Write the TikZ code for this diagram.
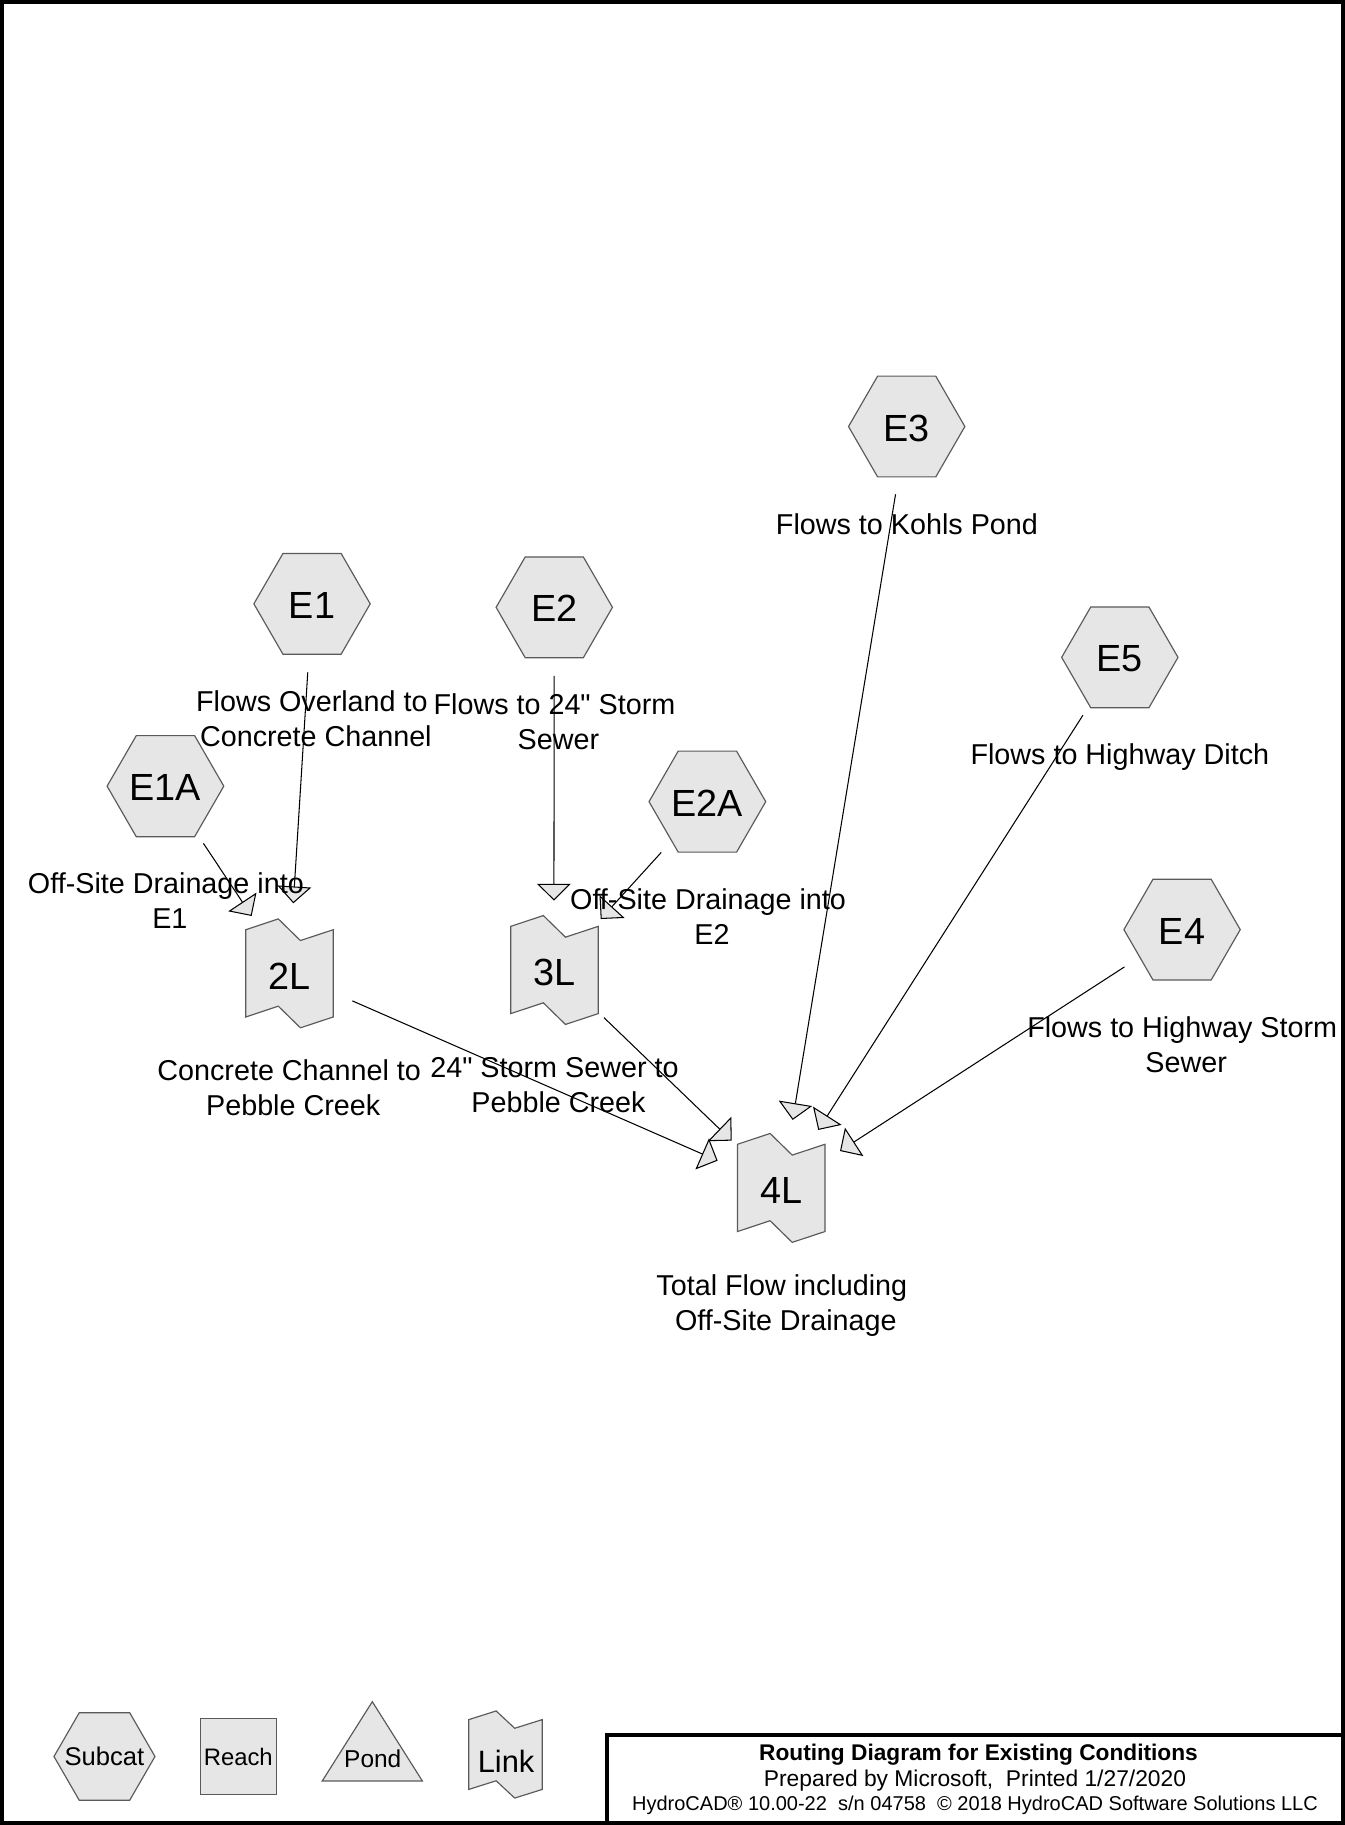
\documentclass[tikz,border=0pt]{standalone}
\usepackage{fontspec}
\setmainfont{Liberation Sans}
\usetikzlibrary{arrows.meta,calc,shapes.geometric}
\definecolor{shfill}{RGB}{230,230,230}
\definecolor{shline}{RGB}{90,90,90}
\newcommand\mylbl[1]{\begin{tabular}[t]{@{}c@{}}#1\end{tabular}}
\newcommand\trsp{\kern.278em}
\font\qfnt="Liberation Sans" at 24.7pt
\newcommand\dq{{\qfnt\char"22}}
\newcommand\linkoutline[2]{\path[linkshape, shift={(#1)}, #2] (-37.6,-37.5) -- (-9.6,-46.8) -- (9.4,-28.2) -- (37.6,-37.5) -- (37.6,37.5) -- (9.4,46.8) -- (-9.6,28.2) -- (-37.6,37.5) -- cycle;}
\begin{document}
\begin{tikzpicture}[x=1pt,y=-1pt,
  hexnode/.style={regular polygon, regular polygon sides=6, minimum size=100pt, inner sep=0pt,
    draw=shline, fill=shfill, line width=1pt, font=\fontsize{32.5}{38}\selectfont,
    text height=25pt, text depth=0pt},
  linknode/.style={inner sep=0pt, font=\fontsize{32.5}{38}\selectfont, text height=27.3pt, text depth=0pt},
  linkshape/.style={draw=shline, fill=shfill, line width=1pt},
  lbl/.style={anchor=base, inner sep=0pt, font=\fontsize{24.7}{30}\selectfont},
  flow/.style={draw=black, line width=0.9pt, -{Triangle[length=14.5pt,width=29pt,fill=shfill]}},
  ttl/.style={anchor=base, inner sep=0pt},
]
\useasboundingbox (0,0) rectangle (1156,1568.6);

% subcatchments
\node[hexnode] (E3) at (779.3,366.6) {E3};
\node[hexnode] (E1) at (268.2,519) {E1};
\node[hexnode] (E2) at (476.4,522) {E2};
\node[hexnode] (E1A) at (142.2,675.7) {E1A};
\node[hexnode] (E2A) at (608,689) {E2A};
\node[hexnode] (E5) at (962.5,565) {E5};
\node[hexnode] (E4) at (1016,799) {E4};

% links
\coordinate (c2L) at (248.8,836.6);
\coordinate (c3L) at (476.6,833.7);
\coordinate (c4L) at (671.5,1021);
\linkoutline{c2L}{}
\linkoutline{c3L}{}
\linkoutline{c4L}{}
\node[linknode] (L2) at (c2L) {2L};
\node[linknode] (L3) at (c3L) {3L};
\node[linknode] (L4) at (c4L) {4L};

% arrow tips
\coordinate (t1) at (252.1,776.4);
\coordinate (t1a) at (216.3,787.3);
\coordinate (t2) at (476.1,774.1);
\coordinate (t2a) at (516.3,789.9);
\coordinate (t3) at (681.3,962.6);
\coordinate (t5) at (703.3,971.2);
\coordinate (t4) at (722,989.3);
\coordinate (t2l) at (616.8,997.6);
\coordinate (t3l) at (628.9,980.4);

% connectors
\draw[flow] ($(E1)!59pt!(t1)$) -- (t1);
\draw[flow] ($(E1A)!59pt!(t1a)$) -- (t1a);
\draw[flow] ($(E2)!59pt!(t2)$) -- (t2);
\draw[flow] ($(E2A)!59pt!(t2a)$) -- (t2a);
\draw[flow] ($(E3)!59pt!(t3)$) -- (t3);
\draw[flow] ($(E5)!59pt!(t5)$) -- (t5);
\draw[flow] ($(E4)!59pt!(t4)$) -- (t4);
\draw[flow] ($(c2L)!59pt!(t2l)$) -- (t2l);
\draw[flow] ($(c3L)!59pt!(t3l)$) -- (t3l);

% labels
\node[lbl] (lE3) at (779.5,459.1) {\mylbl{Flows to Kohls Pond}};
\node[lbl] (lE1) at (271.5,611.5) {\mylbl{Flows Overland to\trsp\\Concrete Channel}};
\node[lbl] (lE2) at (480,614.5) {\mylbl{Flows to 24\dq{} Storm\trsp\\Sewer}};
\node[lbl] (lE1A) at (146,768.2) {\mylbl{Off-Site Drainage into\trsp\\E1}};
\node[lbl] (lE2A) at (612,781.5) {\mylbl{Off-Site Drainage into\trsp\\E2}};
\node[lbl] (lE5) at (962.5,657.5) {\mylbl{Flows to Highway Ditch}};
\node[lbl] (lE4) at (1019.5,891.5) {\mylbl{Flows to Highway Storm\trsp\\Sewer}};
\node[lbl] (l2L) at (252,929.1) {\mylbl{Concrete Channel to\trsp\\Pebble Creek}};
\node[lbl] (l3L) at (480,926.2) {\mylbl{24\dq{} Storm Sewer to\trsp\\Pebble Creek}};
\node[lbl] (l4L) at (672,1113.5) {\mylbl{Total Flow including\\\trsp Off-Site Drainage}};

% frame and title block
\draw[line width=3.4pt] (1.7,1.7) rectangle (1154.3,1566.9);
\draw[line width=3.4pt] (522,1491.5) rectangle (1154.3,1566.9);
\node[ttl, font=\fontsize{19.5}{23}\selectfont\bfseries] (t1l) at (841,1513.5) {Routing Diagram for Existing Conditions};
\node[ttl, font=\fontsize{19.6}{23}\selectfont] (t2ln) at (838,1535.5) {Prepared by Microsoft,\ \ Printed 1/27/2020};
\node[ttl, font=\fontsize{17.2}{20}\selectfont] (t3ln) at (838,1556.5) {HydroCAD® 10.00-22\ \ s/n 04758\ \ © 2018 HydroCAD Software Solutions LLC};

% legend
\node[hexnode, minimum size=86.8pt] (subcat) at (89.8,1509.7) {};
\node[inner sep=0pt, font=\fontsize{22}{26}\selectfont] (subcattxt) at (subcat) {Subcat};
\node[draw=shline, fill=shfill, line width=1pt, minimum size=65.3pt, inner sep=0pt,
  font=\fontsize{20.5}{24}\selectfont] (reach) at (204.8,1509.8) {Reach};
\path[draw=shline, fill=shfill, line width=1pt] (320,1462.6) -- (363,1530.7) -- (277,1530.7) -- cycle;
\node[inner sep=0pt, font=\fontsize{21}{25}\selectfont] (pond) at (320.4,1511.5) {Pond};
\coordinate (cLk) at (434.5,1508);
\linkoutline{cLk}{xscale=0.84, yscale=0.8}
\node[inner sep=0pt, font=\fontsize{26.5}{31}\selectfont] (link) at (435,1514) {Link};
\end{tikzpicture}
\end{document}
